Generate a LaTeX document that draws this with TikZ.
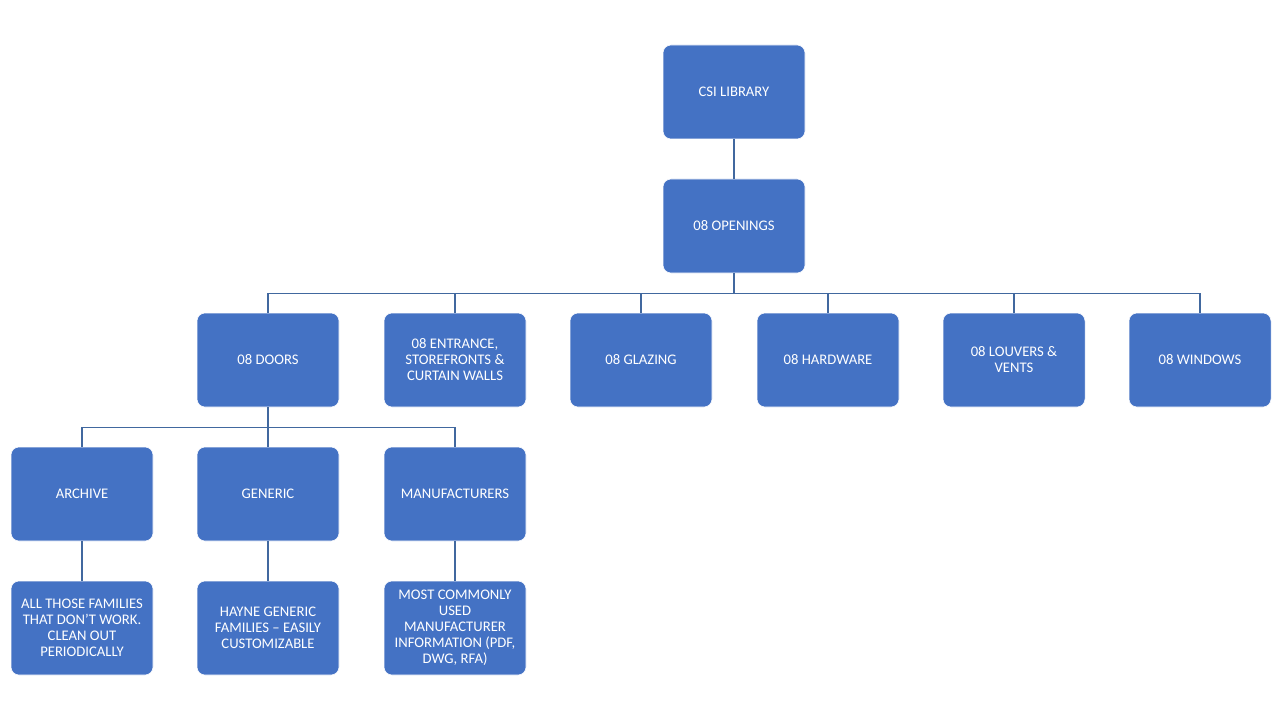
\documentclass[tikz,border=0pt]{standalone}
\usepackage{fontspec}
\setmainfont{Carlito}
\usepackage{tikz}
\usetikzlibrary{positioning}
\definecolor{boxblue}{HTML}{4472C4}
\definecolor{lineblue}{HTML}{41689F}

\begin{document}
\begin{tikzpicture}[x=0.75pt,y=-0.75pt,
                    thin,main node/.style={rectangle,rounded corners=6pt,draw=white,fill=boxblue,
                    minimum width=106.5pt,minimum height=70.5pt,text=white,align=center,
                    font=\fontsize{11}{12}\selectfont},
                    link/.style={draw=lineblue,line width=0.8pt}]

  \useasboundingbox (0,0) rectangle (1280,720);

  \node[main node] (csi) at (734,92) {CSI LIBRARY};
  \node[main node] (open) at (734,226) {08 OPENINGS};

  \node[main node] (doors) at (268,360) {08 DOORS};
  \node[main node] (entr) at (455,360) {08 ENTRANCE,\\STOREFRONTS \&\\CURTAIN WALLS};
  \node[main node] (glaz) at (641,360) {08 GLAZING};
  \node[main node] (hard) at (828,360) {08 HARDWARE};
  \node[main node] (louv) at (1014,360) {08 LOUVERS \&\\VENTS};
  \node[main node] (wind) at (1200,360) {08 WINDOWS};

  \node[main node] (arch) at (82,494) {ARCHIVE};
  \node[main node] (gen) at (268,494) {GENERIC};
  \node[main node] (manu) at (455,494) {MANUFACTURERS};

  \node[main node] (archtxt) at (82,628) {ALL THOSE FAMILIES\\THAT DON’T WORK.\\CLEAN OUT\\PERIODICALLY};
  \node[main node] (gentxt) at (268,628) {HAYNE GENERIC\\FAMILIES – EASILY\\CUSTOMIZABLE};
  \node[main node] (manutxt) at (455,628) {MOST COMMONLY\\USED\\MANUFACTURER\\INFORMATION (PDF,\\DWG, RFA)};

  \draw[link] (csi) -- (open);
  \foreach \n in {doors,entr,glaz,hard,louv,wind}
    \draw[link] (open.south) -- ++(0,20) -| (\n.north);
  \foreach \n in {arch,gen,manu}
    \draw[link] (doors.south) -- ++(0,20) -| (\n.north);
  \draw[link] (arch) -- (archtxt);
  \draw[link] (gen) -- (gentxt);
  \draw[link] (manu) -- (manutxt);

\end{tikzpicture}
\end{document}
